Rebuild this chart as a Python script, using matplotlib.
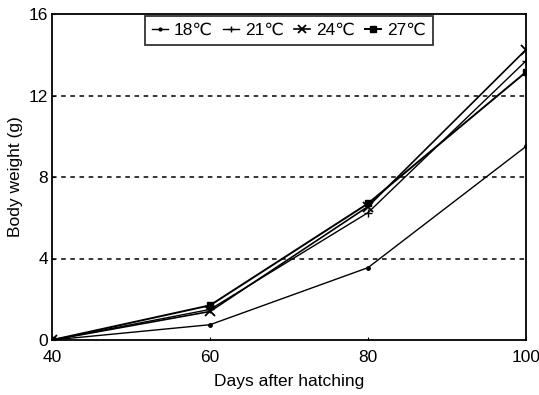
import matplotlib
matplotlib.use("Agg")
import matplotlib.pyplot as plt

days = [40, 60, 80, 100]
w18 = [0.0, 0.75, 3.55, 9.5]
w21 = [0.0, 1.5, 6.25, 13.7]
w24 = [0.0, 1.4, 6.55, 14.25]
w27 = [0.0, 1.7, 6.7, 13.15]
labels = ["18℃", "21℃", "24℃", "27℃"]
xticks = [40, 60, 80, 100]
yticks = [0, 4, 8, 12, 16]

plt.rcParams['font.family'] = ['Liberation Sans', 'DejaVu Sans']
fig = plt.figure(figsize=(5.39, 3.95), dpi=100)
ax = fig.add_axes([52/539, 55/395, 474/539, 326/395])

for yv in [4, 8, 12]:
    ax.axhline(yv, color='black', lw=1.1, ls=(0, (3, 3)), zorder=1)

ax.plot(days, w18, color='black', lw=1.0, marker='o', ms=2.5, label=labels[0])
ax.plot(days, w21, color='black', lw=1.0, marker='+', ms=6, mew=1.0, label=labels[1])
ax.plot(days, w24, color='black', lw=1.2, marker='x', ms=7, mew=1.3, label=labels[2])
ax.plot(days, w27, color='black', lw=1.4, marker='s', ms=5, label=labels[3])

ax.set_xlim(40, 100)
ax.set_ylim(0, 16)
ax.set_xticks(xticks)
ax.set_yticks(yticks)
ax.tick_params(direction='in', length=2, labelsize=12.5, pad=3)
ax.tick_params(axis='x', pad=7)
for s in ax.spines.values():
    s.set_linewidth(1.3)
ax.set_xlabel("Days after hatching", fontsize=12.5, labelpad=7)
ax.set_ylabel("Body weight (g)", fontsize=12.5, labelpad=4)

leg = ax.legend(loc='upper center', ncol=4, fontsize=12.5, frameon=True, fancybox=False,
                edgecolor='black', handlelength=0.9, handletextpad=0.35, columnspacing=0.6,
                borderpad=0.4, markerscale=0.8, borderaxespad=0.1, bbox_to_anchor=(0.5, 1.0))
leg.get_frame().set_linewidth(1.3)

fig.savefig("out.png", dpi=100)
